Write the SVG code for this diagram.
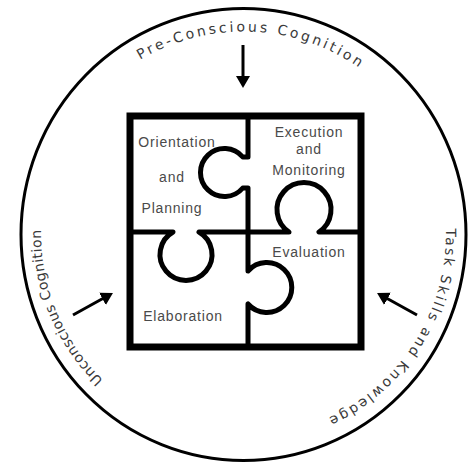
<svg xmlns="http://www.w3.org/2000/svg" width="475" height="463" viewBox="0 0 475 463">
<style>
  .ring { fill: #fff; stroke: #000; stroke-width: 3; }
  .frame { fill: #fff; stroke: #000; stroke-width: 7; }
  .seam { fill: none; stroke: #000; stroke-width: 5; stroke-linejoin: round; }
  .lbl { font-family: "Liberation Sans", Arial, sans-serif; font-size: 14px; fill: #4a4a4a; letter-spacing: 0.8px; text-anchor: middle; }
  .arc { font-family: "DejaVu Sans", Verdana, sans-serif; font-size: 14px; fill: #3a3a3a; text-anchor: middle; }
  .conn { fill: none; stroke: #000; stroke-width: 3; marker-end: url(#ah); }
</style>
<defs>
  <marker id="ah" markerUnits="userSpaceOnUse" viewBox="0 0 12 14" refX="2" refY="7" markerWidth="12" markerHeight="14" orient="auto">
    <path d="M0,0 L12,7 L0,14 z" fill="#000"/>
  </marker>
  <path id="textring" d="M243.5,436.5 A202.5,202.5 0 1,1 243.5,31.5 A202.5,202.5 0 1,1 243.5,436.5"/>
</defs>

<rect width="475" height="463" fill="#fff"/>
<ellipse class="ring" cx="243.5" cy="234.5" rx="222.5" ry="226"/>

<g id="preconscious">
  <text class="arc" letter-spacing="2.8"><textPath href="#textring" startOffset="644.3">Pre-Conscious Cognition</textPath></text>
</g>
<g id="unconscious">
  <text class="arc" letter-spacing="0.4"><textPath href="#textring" startOffset="238.6">Unconscious Cognition</textPath></text>
</g>
<g id="taskskills">
  <text class="arc" letter-spacing="2.2"><textPath href="#textring" startOffset="1067.4">Task Skills and Knowledge</textPath></text>
</g>

<g id="puzzle">
  <rect class="frame" x="130" y="116" width="231" height="231"/>
  <path class="seam" d="M248,116 V157 H242.8 A24,24 0 1,0 242.8,188 H248 V232"/>
  <path class="seam" d="M248,232 V271 A25,25 0 1,1 248,304 V347"/>
  <path class="seam" d="M130,232 H173 A26,26 0 1,0 199,232 H248"/>
  <path class="seam" d="M248,232 H289 A27,27 0 1,1 319,232 H361"/>
</g>

<g id="orientation-planning">
  <text class="lbl" x="177" y="147">Orientation</text>
  <text class="lbl" x="172" y="182">and</text>
  <text class="lbl" x="172" y="213">Planning</text>
</g>
<g id="execution-monitoring">
  <text class="lbl" x="309" y="137">Execution</text>
  <text class="lbl" x="309" y="154">and</text>
  <text class="lbl" x="309" y="175">Monitoring</text>
</g>
<g id="evaluation">
  <text class="lbl" x="309" y="257">Evaluation</text>
</g>
<g id="elaboration">
  <text class="lbl" x="183" y="320.5">Elaboration</text>
</g>

<g id="connectors">
  <path class="conn" d="M243,45 L243,78"/>
  <path class="conn" d="M73,315 L104.2,297.8"/>
  <path class="conn" d="M417,315 L385.8,297.8"/>
</g>
</svg>
